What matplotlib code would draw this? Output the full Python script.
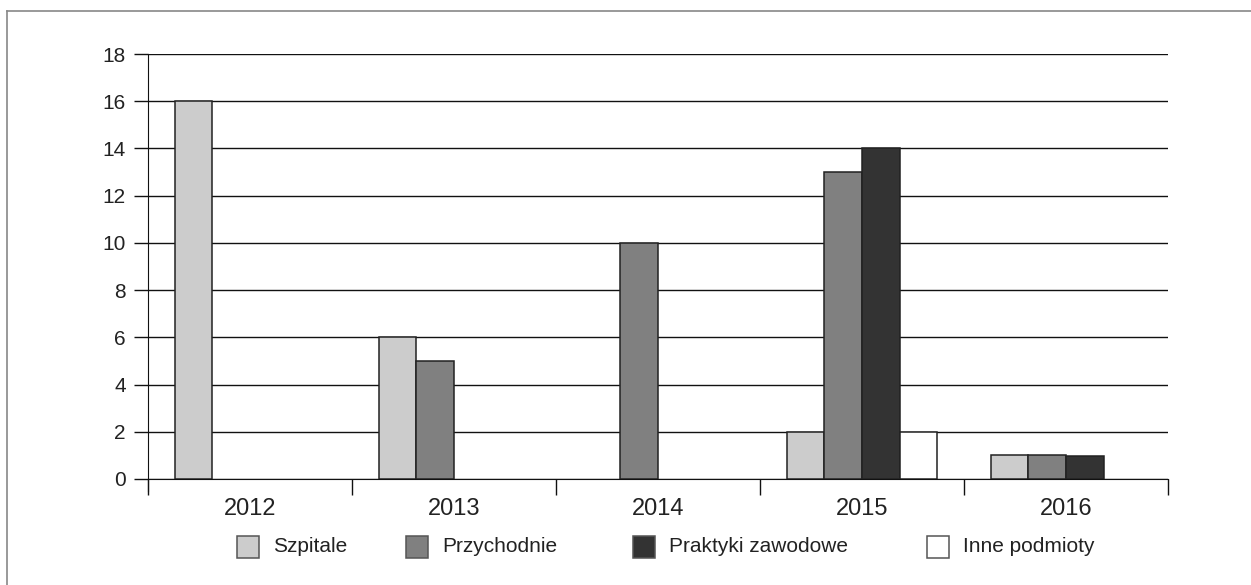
import matplotlib.pyplot as plt
import numpy as np
from matplotlib.lines import Line2D
from matplotlib.patches import Rectangle

years = ["2012", "2013", "2014", "2015", "2016"]
series_names = ["Szpitale", "Przychodnie", "Praktyki zawodowe", "Inne podmioty"]
szpitale = [16, 6, 0, 2, 1]
przychodnie = [0, 5, 10, 13, 1]
praktyki = [0, 0, 0, 14, 0.96]
inne = [0, 0, 0, 2, 0]
colors = ["#cccccc", "#808080", "#333333", "#ffffff"]

plt.rcParams["font.family"] = ["Liberation Sans", "DejaVu Sans"]

W, H = 1251, 585
fig = plt.figure(figsize=(W / 100, H / 100), dpi=100)
ax = fig.add_axes([148 / W, 1 - 479 / H, (1168 - 148) / W, (479 - 54) / H])

x = np.arange(len(years))
bw = 0.184
data = [szpitale, przychodnie, praktyki, inne]
for i, (vals, c) in enumerate(zip(data, colors)):
    vals = np.array(vals, dtype=float)
    keep = vals > 0
    pos = x + (i - 1.5) * bw
    ax.bar(pos[keep], vals[keep], width=bw, color=c, edgecolor="#222222", linewidth=1.1, zorder=3)

ax.set_xlim(-0.5, len(years) - 0.5)
ax.set_ylim(0, 18)
ax.set_yticks(range(0, 19, 2))
ax.yaxis.grid(True, color="#111111", linewidth=1.0, zorder=1)
ax.set_axisbelow(True)

ax.set_xticks(np.arange(-0.5, len(years), 1.0))
ax.set_xticklabels([])
ax.set_xticks(x, minor=True)
ax.set_xticklabels(years, minor=True)
ax.tick_params(axis="x", which="major", length=11.5, width=1.0, color="#111111")
ax.tick_params(axis="x", which="minor", length=0, pad=14, labelsize=17, labelcolor="#222222")
ax.tick_params(axis="y", length=10, width=1.0, color="#111111", labelsize=15, labelcolor="#222222", pad=6)

for s in ["top", "right"]:
    ax.spines[s].set_visible(False)
ax.spines["left"].set_bounds(-0.5, 18)
ax.spines["left"].set_color("#111111")
ax.spines["bottom"].set_color("#111111")

# legend drawn by hand (pixel positions of the squares)
sq_x = [237, 406, 633, 927]
sq_y, sq = 536, 22
for px, name, c in zip(sq_x, series_names, colors):
    fig.add_artist(Rectangle((px / W, 1 - (sq_y + sq) / H), sq / W, sq / H,
                             transform=fig.transFigure, facecolor=c, edgecolor="#555555", linewidth=1.1))
    fig.text((px + sq + 14) / W, 1 - (sq_y + sq / 2) / H, name, fontsize=15,
             color="#222222", ha="left", va="center")

# outer frame (only top and left visible in the reference)
fig.add_artist(Line2D([7 / W, 7 / W], [0, 1 - 11 / H], transform=fig.transFigure, color="#888888", linewidth=1.2))
fig.add_artist(Line2D([7 / W, 1], [1 - 11 / H, 1 - 11 / H], transform=fig.transFigure, color="#888888", linewidth=1.2))

fig.savefig("out.png", dpi=100)
